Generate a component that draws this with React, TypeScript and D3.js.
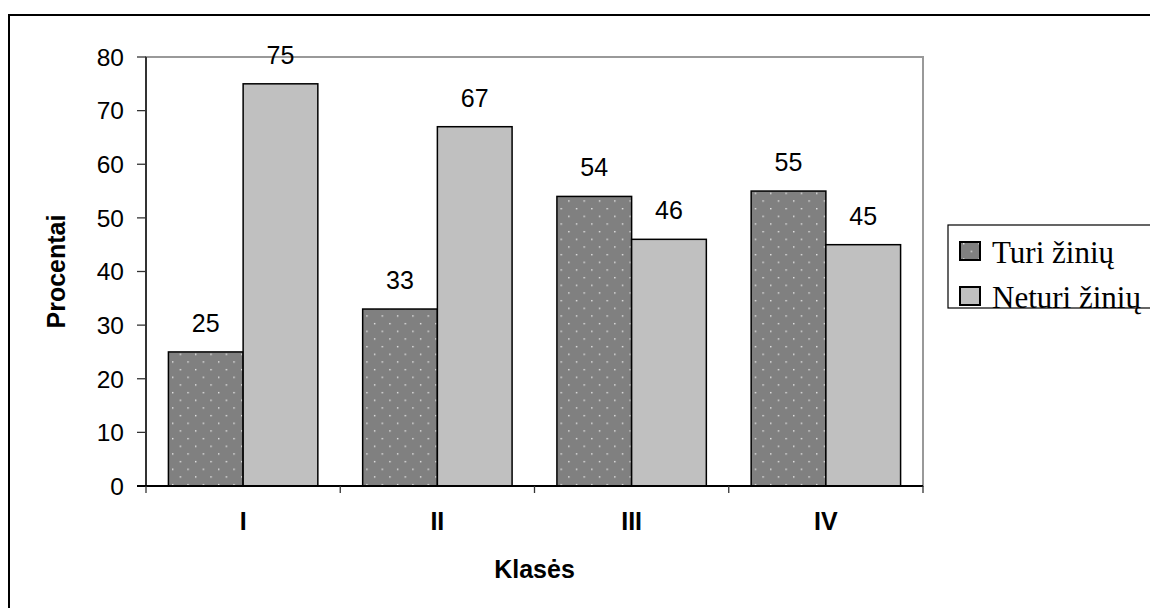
import React from 'react';
import * as d3 from 'd3';

const categories = ['I', 'II', 'III', 'IV'];
const seriesNames = ['Turi žinių', 'Neturi žinių'];
const turi = [25, 33, 54, 55];
const neturi = [75, 67, 46, 45];
const yTicks = [0, 10, 20, 30, 40, 50, 60, 70, 80];

const W = 1150;
const H = 608;
const plot = { left: 146, top: 57, right: 923, bottom: 486 };

const App: React.FC = () => {
  const x0 = d3.scaleBand<string>()
    .domain(categories)
    .range([plot.left, plot.right])
    .padding(0);

  const x1 = d3.scaleBand<string>()
    .domain(seriesNames)
    .range([0, x0.bandwidth()])
    .paddingInner(0)
    .paddingOuter(0.3);

  const y = d3.scaleLinear().domain([0, 80]).range([plot.bottom, plot.top]);

  const fills = ['url(#dots)', '#c0c0c0'];
  const values = [turi, neturi];

  const sans = '"Liberation Sans", Arial, sans-serif';
  const serif = '"Liberation Serif", "Times New Roman", serif';

  return (
    <svg
      width={W}
      height={H}
      style={{ position: 'absolute', left: 0, top: 0, background: '#fff' }}
    >
      <defs>
        <pattern id="dots" patternUnits="userSpaceOnUse" x={3} y={1} width={15.33} height={15.33}>
          <rect width={15.33} height={15.33} fill="#808080" />
          <rect x={0} y={0} width={1.4} height={1.4} fill="#e8e8e8" />
          <rect x={7.67} y={7.67} width={1.4} height={1.4} fill="#e8e8e8" />
        </pattern>
      </defs>

      {/* outer chart frame */}
      <rect x={9} y={15} width={W} height={H} fill="none" stroke="#000" strokeWidth={2} />

      {/* plot area border */}
      <rect
        x={plot.left}
        y={plot.top}
        width={plot.right - plot.left}
        height={plot.bottom - plot.top}
        fill="none"
        stroke="#999"
        strokeWidth={2}
      />

      {/* bars */}
      {categories.map((c, i) => (
        <g key={c} transform={`translate(${x0(c)},0)`}>
          {seriesNames.map((s, j) => {
            const v = values[j][i];
            const bx = x1(s)!;
            return (
              <g key={s}>
                <rect
                  x={bx}
                  y={y(v)}
                  width={x1.bandwidth()}
                  height={y(0) - y(v)}
                  fill={fills[j]}
                  stroke="#000"
                  strokeWidth={1.5}
                />
                <text
                  x={bx + x1.bandwidth() / 2}
                  y={y(v) - 20}
                  textAnchor="middle"
                  fontFamily={sans}
                  fontSize={25}
                  fill="#000"
                >
                  {v}
                </text>
              </g>
            );
          })}
        </g>
      ))}

      {/* y axis */}
      <line x1={plot.left} x2={plot.left} y1={plot.top} y2={plot.bottom} stroke="#333" strokeWidth={2} />
      {yTicks.map((t) => (
        <g key={t}>
          <line x1={plot.left - 9} x2={plot.left} y1={y(t)} y2={y(t)} stroke="#333" strokeWidth={1.3} />
          <text
            x={124}
            y={y(t) + 8.8}
            textAnchor="end"
            fontFamily={sans}
            fontSize={24.5}
            fill="#000"
          >
            {t}
          </text>
        </g>
      ))}

      {/* x axis */}
      <line x1={plot.left - 9} x2={plot.right} y1={plot.bottom} y2={plot.bottom} stroke="#000" strokeWidth={2} />
      {[...categories.map((c) => x0(c)!), plot.right].map((px, i) => (
        <line key={i} x1={px} x2={px} y1={plot.bottom} y2={plot.bottom + 7} stroke="#333" strokeWidth={1.3} />
      ))}
      {categories.map((c) => (
        <text
          key={c}
          x={x0(c)! + x0.bandwidth() / 2}
          y={530}
          textAnchor="middle"
          fontFamily={sans}
          fontWeight="bold"
          fontSize={25}
          fill="#000"
        >
          {c}
        </text>
      ))}

      {/* axis titles */}
      <text
        x={(plot.left + plot.right) / 2}
        y={578}
        textAnchor="middle"
        fontFamily={sans}
        fontWeight="bold"
        fontSize={25}
        fill="#000"
      >
        Klasės
      </text>
      <text
        transform={`translate(65,${(plot.top + plot.bottom) / 2}) rotate(-90)`}
        textAnchor="middle"
        fontFamily={sans}
        fontWeight="bold"
        fontSize={25}
        fill="#000"
      >
        Procentai
      </text>

      {/* legend */}
      <rect x={948} y={225} width={260} height={83} fill="#fff" stroke="#000" strokeWidth={1.2} />
      {seriesNames.map((s, j) => (
        <g key={s} transform={`translate(960,${242 + j * 45})`}>
          <rect x={0} y={0} width={20} height={18} fill={fills[j]} stroke="#000" strokeWidth={2} />
          <text x={32} y={21} fontFamily={serif} fontSize={31} fill="#000">
            {s}
          </text>
        </g>
      ))}
    </svg>
  );
};

export default App;
